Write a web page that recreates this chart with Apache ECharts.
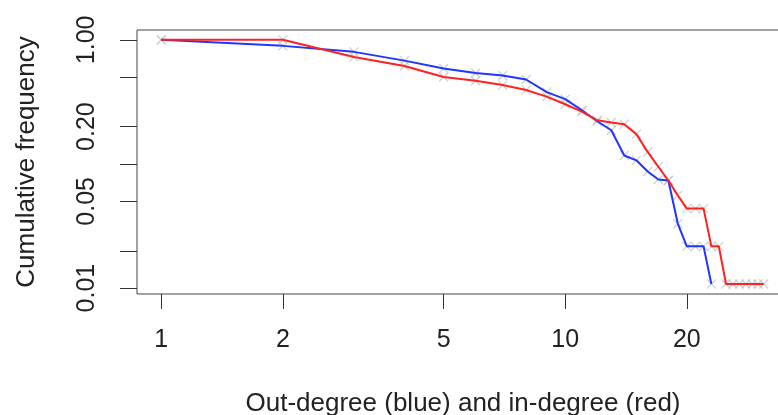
<!DOCTYPE html>
<html><head><meta charset="utf-8">
<script src="https://cdn.jsdelivr.net/npm/echarts@6/dist/echarts.min.js"></script>
<style>html,body{margin:0;padding:0;background:#fff}#c{width:778px;height:415px}</style>
</head><body><div id="c"></div>
<script>
var outDegree = [1,2,3,4,5,6,7,8,9,10,11,12,13,14,15,16,17,18,19,20,21,22,23];
var outFreq = [1.0,0.894,0.80,0.68,0.588,0.541,0.516,0.479,0.379,0.333,0.271,0.221,0.187,0.117,0.107,0.087,0.075,0.0736,0.033,0.0217,0.0217,0.0217,0.0108];
var inDegree = [1,2,3,4,5,6,7,8,9,10,11,12,13,14,15,16,17,18,19,20,21,22,23,24,25,26,27,28,29,30,31];
var inFreq = [1.0,1.0,0.728,0.616,0.502,0.468,0.432,0.394,0.349,0.303,0.264,0.225,0.216,0.209,0.174,0.125,0.095,0.0736,0.0558,0.0437,0.0437,0.0437,0.0217,0.0217,0.0108,0.0108,0.0108,0.0108,0.0108,0.0108,0.0108];
var xTicks = [1,2,5,10,20];
var yTicks = [0.01,0.02,0.05,0.1,0.2,0.5,1];
var yLabels = [0.01,0.05,0.2,1];

function pairs(xs, ys){ return xs.map(function(x,i){return [x, ys[i]];}); }
var font = 'Liberation Sans, Arial, sans-serif';
var xMark = 'path://M0,0L10,10M10,0L0,10';
var chart = echarts.init(document.getElementById('c'));
chart.setOption({
  animation:false,
  backgroundColor:'#fff',
  grid:{left:137, top:30, width:652, height:264, show:true, borderColor:'#444', borderWidth:1,
    backgroundColor:'transparent', containLabel:false, outerBoundsMode:'none'},
  xAxis:{type:'log', logBase:10, min:0.871, max:35.8,
    name:'Out-degree (blue) and in-degree (red)', nameLocation:'middle', nameGap:97,
    nameTextStyle:{fontFamily:font, fontSize:26, color:'#222'},
    axisLine:{show:false}, splitLine:{show:false}, minorTick:{show:false},
    axisTick:{show:true, length:15, lineStyle:{color:'#333'}, customValues:xTicks},
    axisLabel:{customValues:xTicks, margin:34, fontFamily:font, fontSize:25, color:'#222', formatter:function(v){return String(v);}}
  },
  yAxis:{type:'log', logBase:10, min:0.00897, max:1.2,
    name:'Cumulative frequency', nameLocation:'middle', nameGap:97,
    nameTextStyle:{fontFamily:font, fontSize:26, color:'#222'},
    axisLine:{show:false}, splitLine:{show:false}, minorTick:{show:false},
    axisTick:{show:true, length:17, lineStyle:{color:'#333'}, customValues:yTicks},
    axisLabel:{customValues:yLabels, rotate:90, margin:37, fontFamily:font, fontSize:25, color:'#222', formatter:function(v){return Number(v).toFixed(2);}}
  },
  series:[
    {type:'scatter', data:pairs(outDegree,outFreq), symbol:xMark, symbolSize:9, z:1, silent:true,
      itemStyle:{color:'rgba(0,0,0,0)', borderColor:'#c4c4c4', borderWidth:1.2}},
    {type:'scatter', data:pairs(inDegree,inFreq), symbol:xMark, symbolSize:9, z:1, silent:true,
      itemStyle:{color:'rgba(0,0,0,0)', borderColor:'#c4c4c4', borderWidth:1.2}},
    {type:'line', data:pairs(outDegree,outFreq), showSymbol:false, z:2, lineStyle:{color:'#1f36ff', width:2}},
    {type:'line', data:pairs(inDegree,inFreq), showSymbol:false, z:3, lineStyle:{color:'#ff2020', width:2}}
  ]
});
</script></body></html>
